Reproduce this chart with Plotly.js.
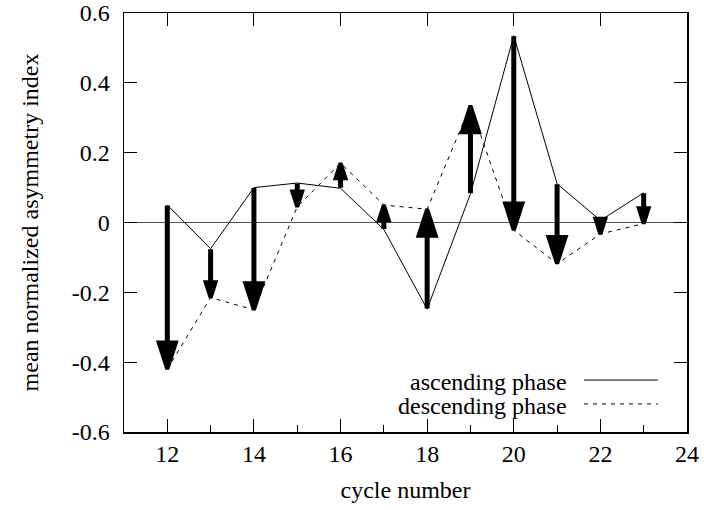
<!DOCTYPE html>
<html>
<head>
<meta charset="utf-8">
<script src="https://cdn.plot.ly/plotly-3.0.1.min.js"></script>
<style>html,body{margin:0;padding:0;background:#fff}#chart{width:704px;height:510px}</style>
</head>
<body>
<div id="chart"></div>
<script>
// ---- data ----
const cycles = [12, 13, 14, 15, 16, 17, 18, 19, 20, 21, 22, 23];
const ascending = [0.05, -0.075, 0.10, 0.113, 0.098, -0.02, -0.248, 0.082, 0.535, 0.111, 0.006, 0.085];
const descending = [-0.42, -0.215, -0.25, 0.045, 0.17, 0.05, 0.038, 0.335, -0.022, -0.118, -0.033, -0.003];
const xMajorTicks = [12, 14, 16, 18, 20, 22, 24];
const yTicks = [-0.6, -0.4, -0.2, 0, 0.2, 0.4, 0.6];
const yTickText = ['-0.6', '-0.4', '-0.2', '0', '0.2', '0.4', '0.6'];
const seriesNames = ['ascending phase', 'descending phase'];

const FONT = '"Liberation Serif", serif';
const tickFont = {family: FONT, size: 24, color: '#000'};

// arrow heads (size depends on arrow length)
const headAngles = cycles.map((c, i) => descending[i] < ascending[i] ? 180 : 0);
const headSizes = cycles.map((c, i) => Math.abs(descending[i] - ascending[i]) > 0.2 ? 28 : 16);

const traces = [
  {x: cycles, y: ascending, mode: 'lines', line: {color: '#000', width: 1}, hoverinfo: 'skip', showlegend: false},
  {x: cycles, y: descending, mode: 'lines', line: {color: '#000', width: 1, dash: '4px,5px'}, hoverinfo: 'skip', showlegend: false},
  {x: cycles, y: descending, mode: 'markers', hoverinfo: 'skip', showlegend: false, opacity: 1,
   marker: {symbol: 'arrow', angle: headAngles, size: headSizes, color: '#000', opacity: 1,
            line: {width: 4, color: '#000'}}}
];

const shafts = cycles.map((c, i) => ({
  x: c, y: descending[i], xref: 'x', yref: 'y',
  ax: c, ay: ascending[i], axref: 'x', ayref: 'y',
  text: '', showarrow: true, arrowhead: 0, arrowwidth: 5, arrowcolor: '#000',
  standoff: 9, font: {size: 1}, borderpad: 0
}));

const legendText = seriesNames.map((n, i) => ({
  xref: 'paper', yref: 'paper', x: 0.79, y: i === 0 ? 0.12 : 0.061,
  xanchor: 'right', yanchor: 'middle', text: n, showarrow: false,
  font: {family: FONT, size: 24, color: '#000'}
}));

const legendLines = [
  {type: 'line', xref: 'paper', yref: 'paper', x0: 0.817, x1: 0.948, y0: 0.124, y1: 0.124, line: {color: '#000', width: 1}},
  {type: 'line', xref: 'paper', yref: 'paper', x0: 0.817, x1: 0.948, y0: 0.067, y1: 0.067, line: {color: '#000', width: 1, dash: '4px,5px'}}
];

const layout = {
  width: 704, height: 510,
  margin: {l: 124, r: 17, t: 13, b: 78},
  paper_bgcolor: '#fff', plot_bgcolor: '#fff',
  font: {family: FONT, size: 24, color: '#000'},
  showlegend: false,
  xaxis: {
    range: [11, 24], tickvals: xMajorTicks, ticks: 'inside', ticklen: 13, tickwidth: 1, tickcolor: '#000',
    tickfont: tickFont,
    minor: {dtick: 1, tick0: 11, ticks: 'inside', ticklen: 7, tickwidth: 1, tickcolor: '#000', showgrid: false},
    showline: true, linecolor: '#000', linewidth: 1.5, mirror: true,
    showgrid: false, zeroline: false, ticklabelstandoff: 0,
    title: {text: 'cycle number', standoff: 15, font: {family: FONT, size: 24}}
  },
  xaxis2: {
    overlaying: 'x', side: 'top', matches: 'x', range: [11, 24], tickvals: xMajorTicks,
    ticks: 'inside', ticklen: 13, tickwidth: 1, tickcolor: '#000', showticklabels: false,
    showgrid: false, zeroline: false, showline: false
  },
  yaxis: {
    range: [-0.6, 0.6], tickvals: yTicks, ticktext: yTickText, ticks: 'inside', ticklen: 13, tickwidth: 1, tickcolor: '#000',
    tickfont: tickFont,
    showline: true, linecolor: '#000', linewidth: 1.5, mirror: 'ticks',
    showgrid: false, zeroline: true, zerolinecolor: '#555', zerolinewidth: 1.5, ticklabelstandoff: 8,
    title: {text: 'mean normalized asymmetry index', standoff: 26, font: {family: FONT, size: 24}}
  },
  annotations: shafts.concat(legendText),
  shapes: legendLines
};

traces.push({x: cycles, y: ascending, xaxis: 'x2', mode: 'none', hoverinfo: 'skip', showlegend: false});

Plotly.newPlot('chart', traces, layout, {staticPlot: true});
</script>
</body>
</html>
